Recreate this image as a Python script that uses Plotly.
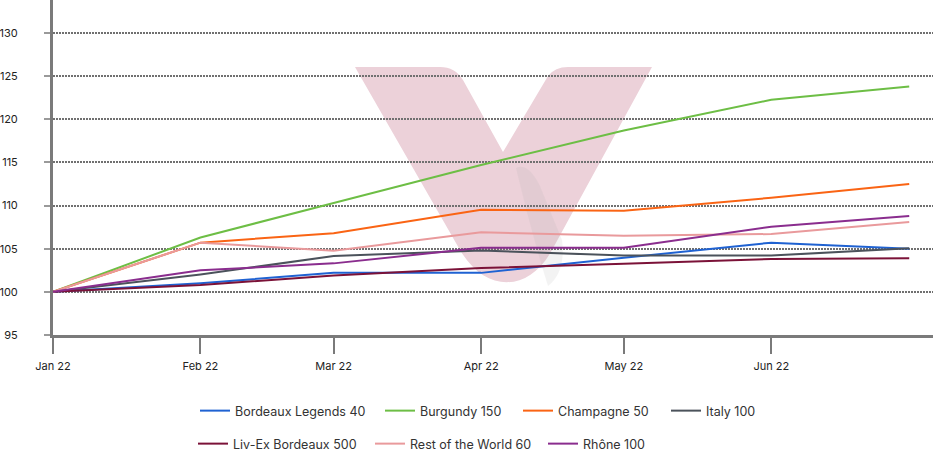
import plotly.graph_objects as go

# ---------------- data ----------------
dates = ["2022-01-01", "2022-02-01", "2022-03-01", "2022-04-01",
         "2022-05-01", "2022-06-01", "2022-06-30"]

series_names = ["Bordeaux Legends 40", "Burgundy 150", "Champagne 50", "Italy 100",
                "Liv-Ex Bordeaux 500", "Rest of the World 60", "Rhône 100"]

bordeaux_legends_40 = [100, 101.0, 102.2, 102.2, 103.95, 105.7, 105.0]
burgundy_150 = [100, 106.3, 110.3, 114.7, 118.7, 122.25, 123.8]
champagne_50 = [100, 105.7, 106.8, 109.5, 109.4, 110.9, 112.5]
italy_100 = [100, 102.0, 104.15, 104.8, 104.2, 104.2, 105.05]
livex_bordeaux_500 = [100, 100.8, 101.9, 102.75, 103.25, 103.8, 103.9]
rest_of_world_60 = [100, 105.7, 104.75, 106.9, 106.5, 106.7, 108.1]
rhone_100 = [100, 102.5, 103.3, 105.1, 105.1, 107.55, 108.8]

x_tick_vals = ["2022-01-01", "2022-02-01", "2022-03-01", "2022-04-01",
               "2022-05-01", "2022-06-01"]
x_tick_text = ["Jan 22", "Feb 22", "Mar 22", "Apr 22", "May 22", "Jun 22"]
y_tick_vals = [95, 100, 105, 110, 115, 120, 125, 130]

# ---------------- styling ----------------
colors = ["#1F62D2", "#6DBE45", "#FA6414", "#4B525B",
          "#7B1238", "#E99A9C", "#8A2D8E"]
values = [bordeaux_legends_40, burgundy_150, champagne_50, italy_100,
          livex_bordeaux_500, rest_of_world_60, rhone_100]

W, H = 933, 453
ML, MR, MT, MB = 53, 0, 0, 118
PW, PH = W - ML - MR, H - MT - MB


def px(x):
    return (x - ML) / PW


def py(y):
    return (PH - (y - MT)) / PH


FONT = "Inter"

fig = go.Figure()

legend_ids = ["legend", "legend2", "legend3", "legend4",
              "legend5", "legend6", "legend7"]
# text start x (px) and row centre y (px) for each legend entry
legend_text_x = [235, 420, 558, 706, 233, 410, 583]
legend_row_y = [411, 411, 411, 411, 444, 444, 444]

for name, vals, col, lid in zip(series_names, values, colors, legend_ids):
    fig.add_trace(go.Scatter(
        x=dates, y=vals, name=name, mode="lines",
        line=dict(color=col, width=2),
        legend=lid, hoverinfo="skip",
    ))

legends = {}
for lid, tx, ty in zip(legend_ids, legend_text_x, legend_row_y):
    legends[lid] = dict(
        orientation="h", x=px(tx - 40), xanchor="left",
        y=py(ty), yanchor="middle",
        bgcolor="rgba(0,0,0,0)", borderwidth=0,
        font=dict(family=FONT, size=12.5, color="#333333"),
    )


def pth(cmds):
    out = []
    for c in cmds:
        if isinstance(c, str):
            out.append(c)
        else:
            out.append(f"{px(c[0]):.5f},{py(c[1]):.5f}")
    return " ".join(out)


v_path = pth(["M", (355, 67), "L", (440, 67), "Q", (455, 67), (463, 80),
              "L", (503, 152), "L", (548, 76), "Q", (555, 67), (568, 67),
              "L", (652, 67), "L", (552, 250),
              "C", (529, 293), (485, 293), (460, 250), "Z"])
fold_path = pth(["M", (516, 168), "Q", (528, 162), (540, 186),
                 "L", (562, 240), "Q", (566, 272), (548, 286),
                 "Q", (532, 235), (516, 168), "Z"])

fig.update_layout(
    width=W, height=H,
    margin=dict(l=ML, r=MR, t=MT, b=MB, pad=0, autoexpand=False),
    paper_bgcolor="white", plot_bgcolor="rgba(0,0,0,0)",
    font=dict(family=FONT, size=11, color="#222222"),
    showlegend=True,
    shapes=[
        dict(type="path", xref="paper", yref="paper", path=v_path,
             fillcolor="rgb(236,209,217)", line=dict(width=0), layer="below"),
        dict(type="path", xref="paper", yref="paper", path=fold_path,
             fillcolor="rgba(175,175,175,0.15)", line=dict(width=0), layer="below"),
    ],
    **legends,
)

fig.update_xaxes(
    type="date", range=["2022-01-01", "2022-07-05"],
    tickmode="array", tickvals=x_tick_vals, ticktext=x_tick_text,
    showgrid=False, zeroline=False,
    showline=True, linecolor="#7a7a7a", linewidth=3,
    ticks="outside", ticklen=16, tickwidth=2, tickcolor="#7a7a7a",
    ticklabelstandoff=3,
    tickfont=dict(family=FONT, size=11, color="#222222"),
)
fig.update_yaxes(
    range=[95, 133.82], tickmode="array", tickvals=y_tick_vals,
    showgrid=True, gridcolor="#707070", gridwidth=1.5, griddash="1.5px,1.5px",
    zeroline=False,
    showline=True, linecolor="#7a7a7a", linewidth=3,
    ticks="outside", ticklen=6, tickwidth=1.5, tickcolor="#9a9a9a",
    ticklabelstandoff=24,
    tickfont=dict(family=FONT, size=11, color="#222222"),
)

fig.write_html("out.html")
